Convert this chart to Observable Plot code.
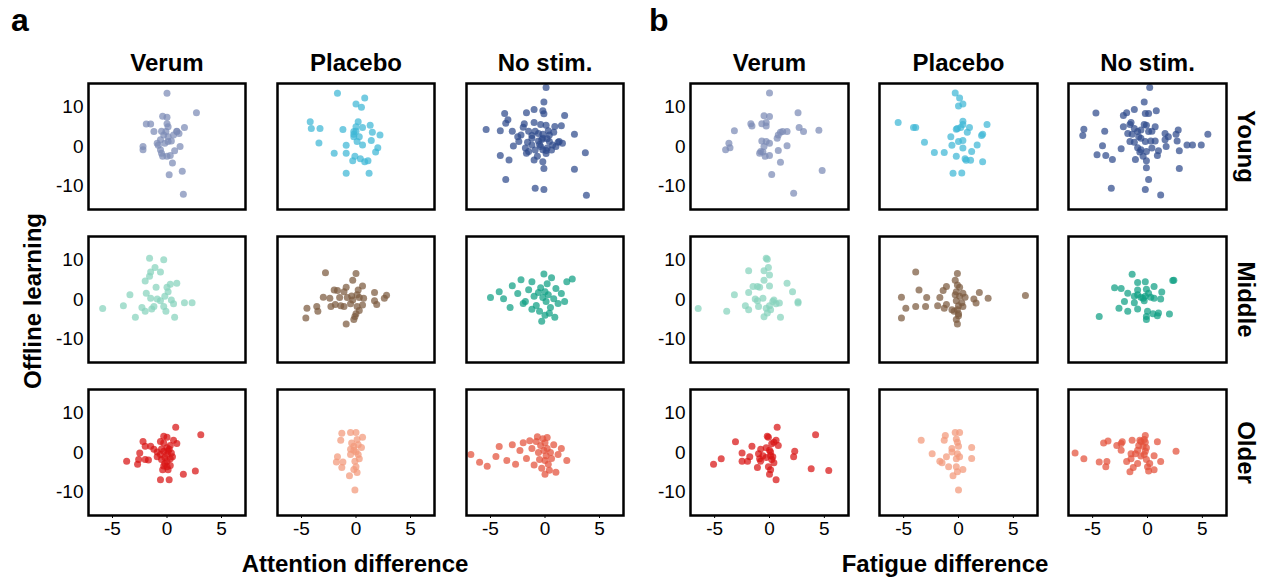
<!DOCTYPE html>
<html>
<head>
<meta charset="utf-8">
<script src="https://cdn.jsdelivr.net/npm/d3@7"></script>
<script src="https://cdn.jsdelivr.net/npm/@observablehq/plot@0.6"></script>
<style>
  html, body { margin: 0; padding: 0; background: #ffffff; }
  #chart { position: relative; width: 1268px; height: 581px; overflow: hidden; font-family: Arial, "Liberation Sans", sans-serif; }
  #chart > svg { position: absolute; top: 0; }
</style>
</head>
<body>
<div id="chart"></div>
<script>
// ---------- categories & ticks ----------
const conditions = ["Verum", "Placebo", "No stim."];
const ages = ["Young", "Middle", "Older"];
const xTicks = [-5, 0, 5];
const yTicks = [-10, 0, 10];
const panelLetters = ["a", "b"];
const xLabels = ["Attention difference", "Fatigue difference"];
const yLabel = "Offline learning";

// ---------- panel a: attention difference vs offline learning ----------
const attnYoungVerum = [[0.0,13.5],[2.7,8.6],[-0.4,7.7],[0.0,7.4],[-1.9,5.7],[-1.5,5.7],[0.0,5.8],[0.1,5.0],[1.6,4.8],[-1.2,3.8],[-0.5,3.9],[0.9,3.9],[1.1,3.3],[0.6,2.9],[-0.3,2.9],[0.1,2.5],[-0.6,1.7],[0.1,1.3],[0.4,1.4],[-0.9,0.8],[-0.2,0.8],[-2.2,0.0],[-2.2,-0.8],[1.2,0.0],[-0.6,-0.8],[-0.5,-1.7],[0.7,-1.1],[-0.4,-2.5],[0.0,-2.5],[0.3,-2.3],[0.5,-4.2],[1.4,-6.3],[0.2,-7.2],[1.5,-12.1],[0.9,3.8],[-0.1,3.8],[-0.8,0.3]];
const attnYoungPlacebo = [[-1.7,13.5],[0.8,12.3],[0.0,10.8],[0.5,10.0],[-4.2,6.3],[-4.1,4.6],[-3.3,4.6],[-1.2,4.3],[0.2,6.3],[0.0,5.0],[0.6,4.8],[1.3,5.4],[-0.2,3.8],[1.5,3.6],[2.2,2.9],[-3.4,0.9],[-0.2,2.5],[0.3,2.5],[0.1,1.3],[1.4,1.5],[0.6,0.4],[-0.9,0.3],[2.0,-0.3],[1.8,-1.4],[-2.0,-1.7],[-0.9,-1.7],[-0.1,-2.5],[0.4,-3.1],[-0.3,-3.6],[0.8,-3.9],[1.1,-3.6],[-0.9,-6.8],[1.2,-6.8],[0.0,3.9],[-0.2,3.1]];
const attnYoungNoStim = [[0.1,15.0],[-0.1,11.3],[-3.7,8.4],[-1.7,8.6],[-1.0,9.4],[-0.2,9.1],[-0.1,8.3],[1.8,7.9],[-3.4,6.8],[-3.6,5.9],[-5.4,4.3],[-4.1,4.0],[-3.0,3.9],[-1.9,5.8],[-2.0,4.9],[-1.0,6.1],[-0.4,5.6],[0.1,5.4],[0.9,5.1],[1.5,5.3],[-2.2,2.9],[-2.5,2.5],[-1.5,3.9],[-0.9,3.9],[-0.6,3.3],[-0.2,3.1],[0.4,2.9],[0.8,3.6],[1.2,1.1],[1.6,0.8],[2.7,3.1],[-2.9,0.1],[-1.6,1.1],[-1.2,0.4],[-0.6,1.4],[-0.2,2.1],[0.4,1.3],[0.6,-0.9],[-1.5,-1.3],[-0.9,-0.9],[-0.2,-0.8],[0.1,-1.8],[3.7,-1.6],[-4.1,-2.3],[-3.3,-3.4],[-1.0,-3.4],[-0.2,-3.9],[-0.1,-5.6],[2.7,-5.8],[-3.6,-8.4],[-0.9,-10.6],[-0.1,-10.9],[3.8,-12.4],[-1.7,-1.7],[-0.7,-2.5],[0.7,0.4],[-1.2,2.1],[-0.4,0.0],[0.2,-0.4],[-1.8,-0.4],[-2.4,1.3],[1.3,1.3],[1.0,0.0],[0.2,2.0],[-0.3,1.8],[0.1,-1.0],[-0.5,0.5],[0.3,4.0],[-1.2,2.8]];
const attnMiddleVerum = [[-1.6,10.5],[-0.3,10.1],[-1.1,8.1],[-1.5,7.0],[-0.6,7.0],[-1.6,5.9],[-2.0,4.7],[-1.0,3.1],[0.0,3.1],[0.3,3.9],[0.9,4.1],[0.1,2.0],[-3.4,1.2],[-1.9,1.6],[-1.5,0.3],[-0.9,0.1],[-0.6,-0.3],[0.4,-0.1],[0.6,-1.1],[1.6,-0.8],[2.3,-0.8],[-4.0,-1.6],[-5.9,-2.3],[-2.3,-2.0],[-2.0,-3.0],[-1.4,-2.4],[-1.2,-1.8],[-0.3,-1.8],[-0.1,-3.0],[-2.9,-4.5],[0.7,-4.5],[-0.2,0.8]];
const attnMiddlePlacebo = [[-2.8,6.8],[0.0,6.6],[-0.3,4.9],[-0.9,3.1],[0.2,2.4],[0.6,3.4],[-2.0,2.4],[-1.7,2.3],[-1.1,2.0],[-3.0,0.6],[-2.4,0.3],[-1.5,0.5],[-0.4,0.9],[0.1,1.2],[0.3,0.5],[0.7,0.3],[1.7,1.8],[2.8,1.1],[2.6,0.3],[1.7,-0.3],[1.9,-1.3],[-4.5,-2.2],[-3.6,-1.8],[-3.5,-3.0],[-4.6,-4.7],[-2.3,-1.8],[-1.9,-1.3],[-1.4,-1.6],[-1.1,-1.8],[-0.5,-1.1],[0.1,-1.8],[0.6,-1.4],[0.3,-2.8],[0.0,-3.6],[-0.1,-4.3],[-0.2,-5.1],[-0.9,-6.2],[-0.8,0.5],[-0.3,-0.1]];
const attnMiddleNoStim = [[-5.0,0.5],[-4.2,2.0],[-3.8,0.2],[-3.0,3.5],[-2.5,1.5],[-2.2,5.0],[-1.8,-0.5],[-1.5,2.5],[-1.2,4.5],[-1.0,0.8],[-0.8,-1.5],[-0.6,1.8],[-0.4,3.0],[-0.2,0.5],[0.0,2.0],[0.1,-0.5],[0.2,4.0],[0.3,1.2],[0.5,-2.0],[0.6,5.5],[0.8,0.2],[1.0,2.8],[1.2,-1.0],[1.5,1.5],[2.0,4.5],[2.5,5.2],[-0.5,-3.0],[0.0,-4.0],[-0.3,-5.5],[0.4,-3.5],[-1.2,-2.5],[0.9,-4.5],[-2.0,-1.0],[1.8,-0.5],[-0.1,6.5],[-3.2,-2.0]];
const attnOlderVerum = [[0.8,6.4],[3.1,4.5],[-0.3,4.1],[0.0,3.9],[-0.6,2.8],[0.6,3.1],[0.9,2.3],[-2.2,2.8],[-2.0,1.6],[-1.5,1.6],[-1.2,0.8],[-0.9,0.1],[-2.5,-0.1],[-0.6,-0.5],[-0.3,0.3],[0.0,1.2],[0.2,0.8],[0.5,-1.1],[0.3,-1.6],[-0.5,-1.8],[0.0,-2.2],[-2.6,-1.8],[-2.0,-1.8],[-1.7,-1.9],[-3.7,-2.2],[-2.7,-3.0],[-0.3,-3.4],[0.0,-3.6],[0.3,-3.3],[-0.4,-4.4],[0.1,-4.4],[1.5,-5.5],[2.6,-4.7],[-0.6,-6.9],[0.2,-6.9],[-0.2,-1.3],[0.0,-0.5],[0.4,-0.1],[-0.3,2.4],[-0.9,-1.1],[0.1,0.3],[-0.2,-2.8],[0.3,1.8],[-0.5,0.9]];
const attnOlderPlacebo = [[-1.3,4.9],[-0.5,5.1],[0.0,5.1],[-1.4,3.1],[0.1,3.3],[0.6,3.9],[0.5,1.3],[-0.5,0.8],[-0.2,1.6],[0.0,0.1],[0.3,-1.6],[-0.5,-0.5],[-1.7,-1.1],[-1.8,-2.4],[-1.2,-2.4],[-1.3,-3.8],[0.2,-0.5],[-0.1,-2.2],[0.0,-3.6],[-0.2,-4.3],[0.1,-5.1],[-0.6,-5.9],[-0.1,-9.5],[-0.2,0.6],[-0.4,2.4],[0.2,2.0]];
const attnOlderNoStim = [[-6.8,-0.5],[-6.0,-2.5],[-5.3,-3.5],[-4.5,-1.0],[-4.2,1.5],[-3.5,-2.0],[-3.0,2.0],[-2.7,-3.0],[-2.3,0.5],[-2.0,2.5],[-1.7,-1.5],[-1.4,3.0],[-1.2,1.0],[-1.0,-3.2],[-0.8,2.8],[-0.6,0.0],[-0.5,-1.8],[-0.4,1.8],[-0.3,-4.0],[-0.2,3.5],[-0.1,0.5],[0.0,-2.0],[0.0,2.5],[0.1,-0.8],[0.2,1.0],[0.3,-3.0],[0.4,-4.5],[0.5,0.0],[0.6,-1.5],[0.8,2.0],[1.0,-5.0],[1.2,-0.5],[1.5,1.0],[2.0,-2.0],[-0.7,4.0],[0.0,-5.5],[0.2,3.8]];

// ---------- panel b: fatigue difference vs offline learning ----------
const fatYoungVerum = [[0.0,13.6],[2.6,8.6],[-0.5,7.8],[0.0,7.6],[-1.7,5.8],[-1.6,5.2],[-0.7,5.8],[-0.3,6.1],[-0.3,5.2],[-3.2,4.0],[2.7,4.8],[3.1,3.8],[4.5,4.1],[1.0,3.6],[0.8,2.9],[1.2,3.8],[1.6,3.8],[0.7,2.1],[-3.7,0.8],[-4.0,-0.8],[-3.6,-0.3],[-0.7,1.4],[-0.3,1.3],[0.0,0.8],[1.6,0.2],[-0.8,-1.3],[-0.9,-1.7],[-0.6,-1.4],[-0.4,-2.5],[0.0,-2.3],[0.8,-1.0],[1.0,-4.0],[0.2,-7.1],[4.8,-6.1],[2.2,-11.9],[-0.5,0.0]];
const fatYoungPlacebo = [[-0.3,13.6],[0.1,12.3],[0.4,10.8],[0.0,10.3],[-5.5,6.1],[-4.1,4.8],[-3.9,4.8],[-3.1,1.1],[0.4,6.4],[0.4,5.6],[0.2,4.8],[-0.2,4.4],[1.0,4.8],[0.8,3.6],[2.6,5.6],[2.2,3.1],[2.1,2.8],[-0.7,2.5],[0.0,1.3],[0.4,1.5],[-0.6,0.3],[1.7,0.4],[-2.2,-1.5],[-1.3,-1.5],[1.2,-1.3],[-0.2,-2.5],[0.6,-3.1],[1.1,-3.5],[0.7,-3.5],[2.2,-3.9],[-0.5,-6.8],[0.3,-6.7],[-0.1,4.6],[0.4,-0.4]];
const fatYoungNoStim = [[0.2,15.0],[-0.3,11.3],[-4.7,8.5],[-2.2,7.9],[-1.9,8.6],[-1.2,9.4],[-0.2,8.4],[0.1,8.4],[0.8,9.1],[-1.5,6.1],[-1.6,5.6],[-0.3,5.6],[-0.1,5.4],[0.7,5.0],[-2.2,5.0],[-1.2,4.6],[-0.9,3.8],[-5.8,4.4],[-5.9,2.8],[-3.9,3.9],[-1.8,3.3],[-1.4,3.1],[-0.6,4.2],[0.1,3.8],[0.4,3.9],[1.6,3.3],[1.9,2.5],[2.8,4.2],[2.6,3.1],[5.5,3.1],[-1.6,1.3],[-1.2,1.1],[-0.6,2.1],[-0.2,1.3],[0.3,1.4],[0.7,1.4],[1.6,1.7],[2.7,1.4],[3.6,0.4],[4.1,0.4],[4.9,0.4],[-4.1,0.2],[-2.4,-0.6],[-0.9,-0.3],[-0.6,-0.8],[-0.1,-1.3],[1.0,-1.1],[1.7,0.0],[2.9,-1.1],[-4.6,-2.1],[-3.8,-2.3],[-3.2,-3.3],[-1.1,-3.3],[-0.1,-3.6],[0.9,-2.3],[-0.1,-5.4],[2.9,-5.6],[0.1,-8.4],[-3.3,-10.6],[-0.2,-10.9],[1.2,-12.3],[-0.7,-1.4],[-0.4,-2.5],[-0.8,2.5],[0.4,-0.4]];
const fatMiddleVerum = [[-0.3,10.5],[-0.2,10.2],[-1.9,7.3],[-0.5,7.3],[-0.1,8.1],[0.0,6.2],[-0.5,4.9],[-1.1,3.3],[-0.9,3.1],[0.0,3.4],[1.6,4.1],[2.1,2.0],[-3.2,1.2],[-1.9,1.8],[-1.3,0.1],[-1.1,-0.3],[-0.6,0.3],[-2.2,-1.6],[-1.9,-2.6],[-1.0,-1.8],[-0.3,-2.2],[0.0,-1.6],[0.4,-0.1],[0.6,-1.1],[0.9,-0.9],[0.1,-2.6],[-0.5,-4.4],[1.0,-4.5],[2.6,-0.6],[2.6,-0.9],[-6.5,-2.3],[-3.9,-3.0],[-1.5,3.3],[0.3,-0.5],[-0.2,-3.4]];
const fatMiddlePlacebo = [[-3.9,7.0],[-0.1,6.6],[-0.3,4.9],[-0.1,3.7],[0.1,3.1],[-3.6,2.4],[-1.1,3.3],[-1.4,2.3],[-1.7,0.5],[-2.9,0.5],[-5.2,0.6],[-4.8,-2.2],[-3.9,-1.8],[-3.0,-1.8],[-1.9,-1.6],[-1.3,-2.2],[-1.1,-1.3],[-0.2,2.0],[0.4,1.6],[0.6,0.6],[0.1,0.8],[-0.2,-0.3],[0.3,-0.8],[0.0,-1.6],[-0.4,-3.0],[-0.1,-2.6],[0.0,-3.6],[-0.2,-5.1],[-0.1,-6.2],[1.4,0.1],[1.6,-0.9],[1.9,1.8],[2.7,0.3],[-5.2,-4.7],[0.4,-1.8],[-0.3,1.2],[-0.6,-2.6],[0.0,-4.1],[6.1,1.0]];
const fatMiddleNoStim = [[-1.4,6.4],[-0.9,4.3],[-0.2,4.5],[-3.0,3.0],[-2.4,2.8],[-1.8,1.6],[-0.9,2.4],[-0.1,2.6],[0.6,3.3],[1.3,1.9],[2.4,4.9],[2.3,4.8],[-0.9,1.2],[-0.6,0.6],[-0.2,0.8],[0.3,0.6],[0.6,0.3],[1.2,0.1],[-2.1,-0.5],[-1.2,-0.8],[-0.3,-0.3],[-2.6,-2.2],[-1.8,-3.0],[-0.9,-2.4],[0.0,-3.0],[0.5,-3.6],[1.0,-3.4],[0.9,-4.1],[2.0,-3.7],[-0.1,-4.3],[-0.1,-5.1],[-4.4,-4.3],[-1.2,0.8],[-0.4,0.3],[0.1,1.6]];
const fatOlderVerum = [[0.7,6.4],[4.2,4.5],[-0.2,4.1],[-0.1,3.9],[0.6,3.1],[0.4,2.6],[0.2,2.2],[-3.1,2.7],[-1.6,1.6],[-2.5,-0.1],[-0.8,0.8],[-0.3,1.2],[0.0,0.6],[0.1,0.1],[0.8,1.8],[2.3,0.3],[2.2,-1.1],[-5.1,-3.0],[-4.4,-1.6],[-2.5,-2.2],[-2.0,-2.2],[-1.8,-1.1],[-1.0,-0.3],[-0.9,-1.6],[-0.8,-2.2],[-0.3,-1.3],[0.2,-1.8],[0.3,-1.1],[-1.1,-3.8],[-0.1,-3.6],[0.1,-4.4],[0.0,-5.5],[0.6,-6.9],[3.8,-4.1],[5.4,-4.6],[-0.6,-0.8],[0.1,-0.8],[0.4,-2.6]];
const fatOlderPlacebo = [[-0.3,5.1],[0.1,5.1],[-1.2,4.3],[-0.2,3.4],[-1.3,3.1],[-0.1,2.6],[-3.4,3.1],[0.0,1.6],[1.2,1.3],[-0.6,1.0],[-2.4,-0.3],[-1.1,-1.1],[-0.1,-0.3],[-0.2,-1.6],[0.1,-1.1],[1.2,-1.5],[-1.7,-2.2],[-1.5,-2.6],[-0.9,-3.6],[-0.2,-3.6],[0.4,-4.3],[-0.1,-4.9],[-0.5,-5.9],[0.0,-9.5],[-0.6,0.1]];
const fatOlderNoStim = [[-0.2,4.3],[-0.3,3.3],[-0.6,2.8],[-0.2,2.6],[-0.8,1.8],[-0.9,0.6],[-0.4,1.6],[-0.1,1.2],[-4.0,2.4],[-3.6,2.9],[-2.8,1.8],[-2.4,2.3],[-2.3,2.7],[-1.4,3.1],[-0.7,3.1],[0.9,2.7],[-2.4,0.6],[-1.5,-0.3],[-1.1,-0.3],[-6.6,-0.1],[-5.8,-1.6],[-4.4,-2.4],[-3.7,-2.3],[-3.8,-3.6],[-1.9,-2.3],[-1.5,-1.6],[-1.3,-3.8],[-1.6,-4.9],[-0.9,-2.8],[-0.6,-0.9],[-0.3,-0.5],[-0.1,-1.8],[0.2,-2.8],[0.6,-0.8],[1.2,-2.3],[0.0,-3.6],[0.1,-4.7],[0.6,-4.4],[2.6,0.3],[-0.2,0.3]];

// ---------- colours (one per age × condition) ----------
const groupColors = [
  ["#7c8ab6", "#3fb7d5", "#2f4b8c"],   // Young:  Verum, Placebo, No stim.
  ["#86d3bc", "#7b5a3e", "#0fa083"],   // Middle
  ["#d81414", "#f3987a", "#e3503a"]    // Older
];

// ---------- build tables ----------
const attnSets = [[attnYoungVerum, attnYoungPlacebo, attnYoungNoStim],
                  [attnMiddleVerum, attnMiddlePlacebo, attnMiddleNoStim],
                  [attnOlderVerum, attnOlderPlacebo, attnOlderNoStim]];
const fatSets  = [[fatYoungVerum, fatYoungPlacebo, fatYoungNoStim],
                  [fatMiddleVerum, fatMiddlePlacebo, fatMiddleNoStim],
                  [fatOlderVerum, fatOlderPlacebo, fatOlderNoStim]];
function toTable(sets) {
  const rows = [];
  ages.forEach((age, i) => conditions.forEach((cond, j) => {
    for (const [x, y] of sets[i][j]) rows.push({age, cond, key: age + "|" + cond, x, y});
  }));
  return rows;
}
const colorKeys = [], colorRange = [];
ages.forEach((a, i) => conditions.forEach((c, j) => { colorKeys.push(a + "|" + c); colorRange.push(groupColors[i][j]); }));

const FONT = "Arial, 'Liberation Sans', Helvetica, sans-serif";

function panel(data, {marginLeft, marginRight, padX, rowLabels}) {
  const marks = [
    Plot.dot(data, {x: "x", y: "y", fx: "cond", fy: "age", r: 3.5, fill: "key", fillOpacity: 0.72, stroke: "none"}),
    Plot.frame({stroke: "black", strokeWidth: 2.5}),
    Plot.axisX({ticks: xTicks, facetAnchor: "bottom", tickSize: 3, tickPadding: 3, label: null,
                tickFormat: d => String(d), fontSize: 19}),
    Plot.axisY({ticks: yTicks, facetAnchor: "left", tickSize: 0, tickPadding: 5, label: null,
                tickFormat: d => String(d), fontSize: 19}),
    Plot.text(conditions, {fx: d => d, fy: () => "Young", frameAnchor: "top", dy: -20, lineAnchor: "middle",
                           text: d => d, fontSize: 24, fontWeight: "bold", fill: "black"})
  ];
  if (rowLabels) {
    marks.push(Plot.text(ages, {fx: () => "No stim.", fy: d => d, frameAnchor: "right", dx: 19, rotate: 90,
                                textAnchor: "middle", lineAnchor: "middle",
                                text: d => d, fontSize: 24, fontWeight: "bold", fill: "black"}));
  }
  return Plot.plot({
    width: 634, height: 581,
    marginLeft, marginRight, marginTop: 82, marginBottom: 64,
    style: {fontFamily: FONT, fontSize: "19px", color: "black", background: "transparent", overflow: "visible"},
    x: {domain: [-7.2, 7.2]},
    y: {domain: [-16, 16]},
    fx: {domain: conditions, paddingInner: padX, paddingOuter: 0, axis: null},
    fy: {domain: ages, paddingInner: 0.175, paddingOuter: 0, axis: null},
    color: {domain: colorKeys, range: colorRange},
    marks
  });
}

const chart = document.getElementById("chart");
const svgA = panel(toTable(attnSets), {marginLeft: 87, marginRight: 9, padX: 0.168, rowLabels: false});
svgA.style.left = "0px";
chart.appendChild(svgA);
const svgB = panel(toTable(fatSets), {marginLeft: 55, marginRight: 42, padX: 0.166, rowLabels: true});
svgB.style.left = "634px";
chart.appendChild(svgB);

// ---------- overlay labels ----------
const overlay = d3.select(chart).append("svg")
  .attr("width", 1268).attr("height", 581)
  .style("position", "absolute").style("left", "0px").style("top", "0px")
  .style("pointer-events", "none")
  .attr("font-family", FONT).attr("font-weight", "bold").attr("fill", "black");
overlay.append("text").attr("x", 11).attr("y", 31).attr("font-size", 32).text(panelLetters[0]);
overlay.append("text").attr("x", 649).attr("y", 31).attr("font-size", 32).text(panelLetters[1]);
overlay.append("text").attr("transform", "translate(41,301) rotate(-90)").attr("text-anchor", "middle")
  .attr("font-size", 24).text(yLabel);
overlay.append("text").attr("x", 355).attr("y", 572).attr("text-anchor", "middle").attr("font-size", 24).text(xLabels[0]);
overlay.append("text").attr("x", 945).attr("y", 572).attr("text-anchor", "middle").attr("font-size", 24).text(xLabels[1]);
</script>
</body>
</html>
